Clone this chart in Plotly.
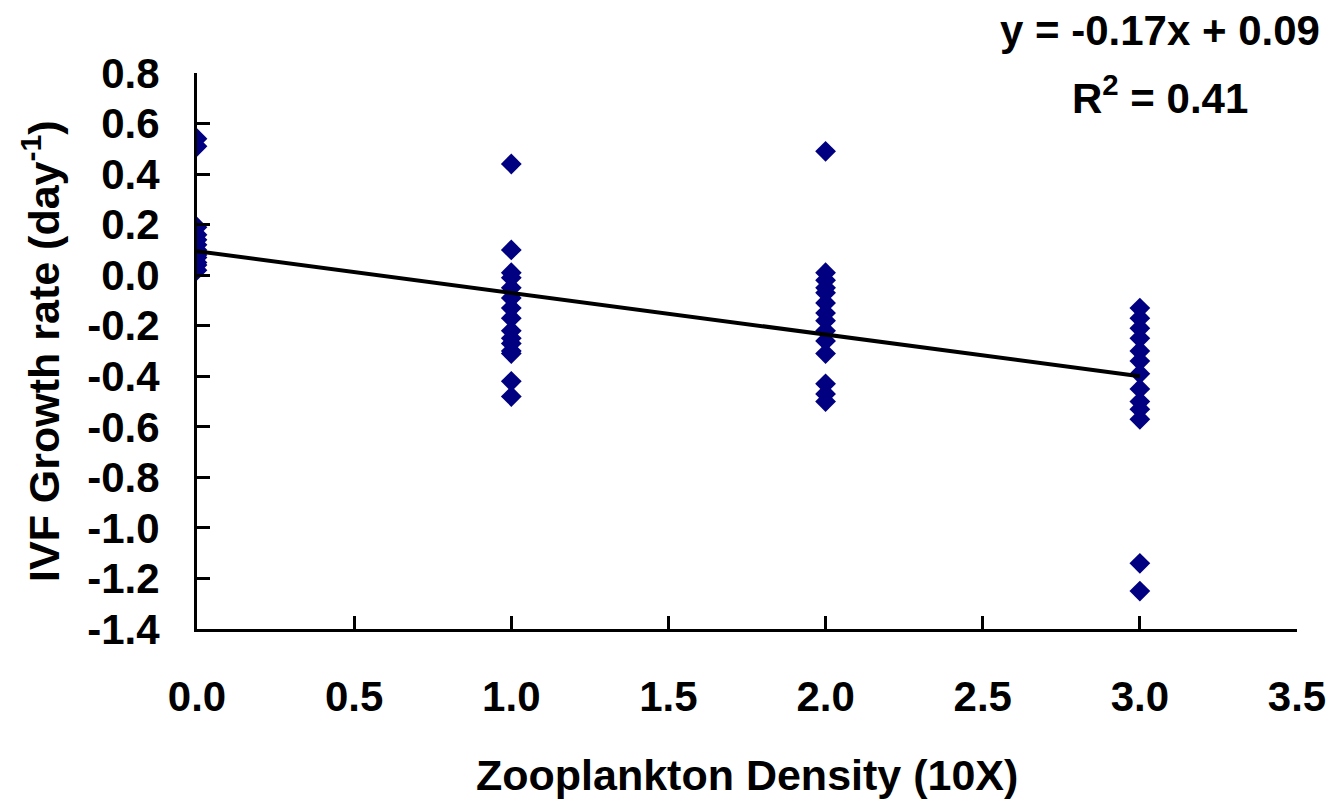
import plotly.graph_objects as go

# Zooplankton density levels (10X) and IVF growth rates (day^-1)
x0_vals = [0.54, 0.51, 0.19, 0.16, 0.14, 0.12, 0.10, 0.08, 0.07, 0.05, 0.04, 0.02]
x1_vals = [0.44, 0.10, 0.01, -0.01, -0.05, -0.09, -0.13, -0.17, -0.22, -0.25, -0.27, -0.30, -0.31, -0.42, -0.48]
x2_vals = [0.49, 0.01, -0.02, -0.05, -0.07, -0.11, -0.15, -0.18, -0.22, -0.26, -0.31, -0.43, -0.47, -0.50]
x3_vals = [-0.13, -0.17, -0.21, -0.25, -0.30, -0.34, -0.39, -0.45, -0.50, -0.53, -0.57, -1.14, -1.25]

densities = [0.0, 1.0, 2.0, 3.0]
groups = [x0_vals, x1_vals, x2_vals, x3_vals]

trend_x = [0.0, 3.0]
trend_y = [0.095, -0.40]
slope_txt = "-0.17"
intercept_txt = "0.09"
r2_txt = "0.41"

xtick_vals = [0, 0.5, 1, 1.5, 2, 2.5, 3, 3.5]
xtick_text = ["0.0", "0.5", "1.0", "1.5", "2.0", "2.5", "3.0", "3.5"]
ytick_vals = [0.8, 0.6, 0.4, 0.2, 0.0, -0.2, -0.4, -0.6, -0.8, -1.0, -1.2, -1.4]
ytick_text = ["0.8", "0.6", "0.4", "0.2", "0.0", "-0.2", "-0.4", "-0.6", "-0.8", "-1.0", "-1.2", "-1.4"]

xs, ys = [], []
for d, g in zip(densities, groups):
    xs += [d] * len(g)
    ys += g

FONT = "Liberation Sans, Arial, sans-serif"

fig = go.Figure()
fig.add_trace(go.Scatter(
    x=xs, y=ys, mode="markers",
    marker=dict(symbol="diamond", size=16, color="#000080", line=dict(width=0)),
    showlegend=False,
))
fig.add_trace(go.Scatter(
    x=trend_x, y=trend_y, mode="lines",
    line=dict(color="black", width=4), showlegend=False,
))

axis_common = dict(
    showgrid=False, zeroline=False, showline=True, linecolor="black", linewidth=3,
    ticks="inside", ticklen=13, tickwidth=3, tickcolor="black",
    tickfont=dict(family=FONT, size=42, color="black", weight="bold"),
)

fig.update_xaxes(range=[0, 3.5], tickmode="array", tickvals=xtick_vals, ticktext=xtick_text,
                 ticklabelstandoff=29, **axis_common)
fig.update_yaxes(range=[-1.4, 0.8], tickmode="array", tickvals=ytick_vals, ticktext=ytick_text,
                 ticklabelstandoff=26, **axis_common)

tfont = dict(family=FONT, size=43, color="black", weight="bold")
efont = dict(family=FONT, size=42, color="black", weight="bold")
fig.update_layout(
    width=1338, height=806,
    margin=dict(l=197, r=33, t=73, b=177),
    plot_bgcolor="white", paper_bgcolor="white",
    annotations=[
        dict(text="Zooplankton Density (10X)", xref="paper", yref="paper", x=0.5, y=0,
             yshift=-146, xanchor="center", yanchor="middle", showarrow=False, font=tfont),
        dict(text="IVF Growth rate (day<sup>-1</sup>)", xref="paper", yref="paper", x=0, y=0.5,
             xshift=-156, xanchor="center", yanchor="middle", textangle=-90, showarrow=False, font=tfont),
        dict(text=f"y = {slope_txt}x + {intercept_txt}", xref="paper", yref="paper", x=1, y=1,
             xshift=-137, yshift=43, xanchor="center", yanchor="middle", showarrow=False, font=efont),
        dict(text=f"R<sup>2</sup> = {r2_txt}", xref="paper", yref="paper", x=1, y=1,
             xshift=-137, yshift=-22, xanchor="center", yanchor="middle", showarrow=False, font=efont),
    ],
)

fig.write_html("out.html")
